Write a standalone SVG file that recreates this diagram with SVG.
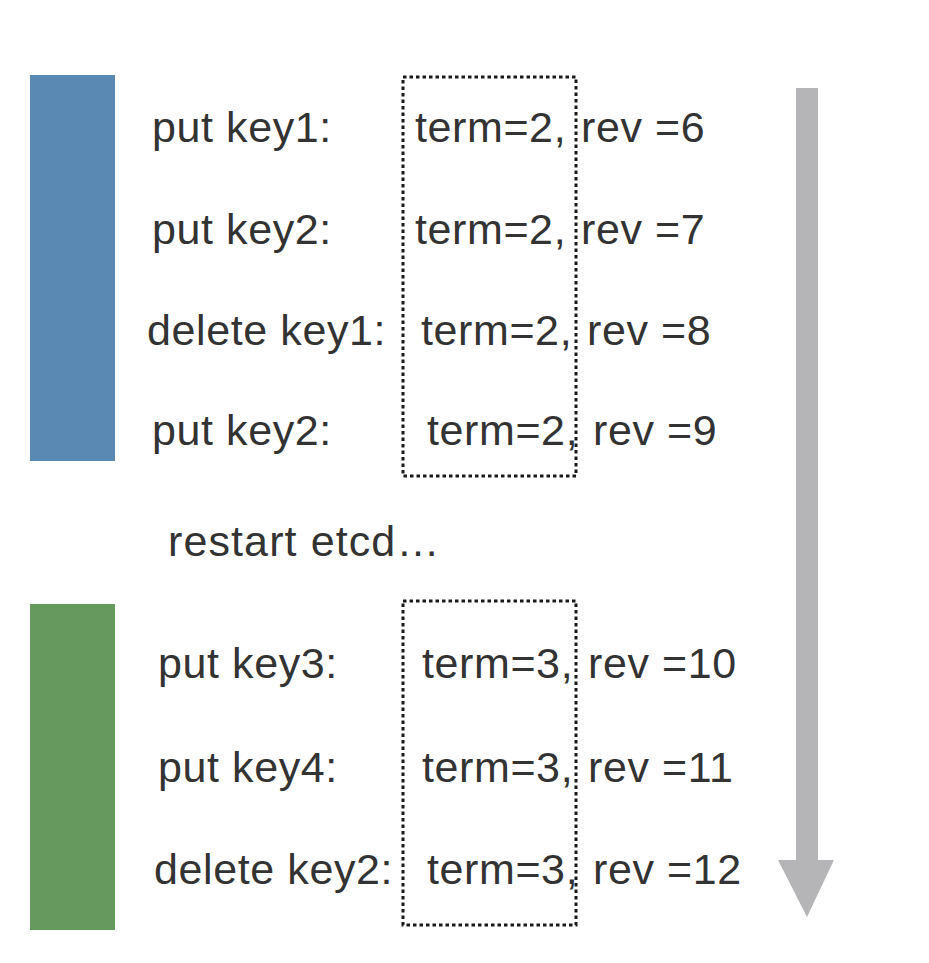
<svg xmlns="http://www.w3.org/2000/svg" width="929" height="963" viewBox="0 0 929 963">
<style>
text{font-family:"Liberation Sans",Arial,sans-serif;font-size:43px;letter-spacing:0.6px;fill:#333}
.box{fill:none;stroke:#1a1a1a;stroke-width:3;stroke-dasharray:3.5 3}
</style>
<rect width="929" height="963" fill="#fff"/>
<g id="bar-blue"><rect x="30" y="75" width="85" height="386" fill="#5a8ab3"/></g>
<g id="bar-green"><rect x="30" y="604" width="85" height="326" fill="#65995e"/></g>
<g id="box1"><rect class="box" x="403" y="77" width="173" height="399"/></g>
<g id="box2"><rect class="box" x="403" y="601" width="173" height="324"/></g>
<g id="timeline"><path d="M796 88 H818 V860 H834 L807 917 L778 860 H796 Z" fill="#b5b5b7"/></g>
<g id="row1"><text x="152" y="142">put key1:</text><text x="415" y="142">term=2,</text><text x="581" y="142">rev =6</text></g>
<g id="row2"><text x="152" y="244">put key2:</text><text x="415" y="244">term=2,</text><text x="581" y="244">rev =7</text></g>
<g id="row3"><text x="147" y="345">delete key1:</text><text x="421" y="345">term=2,</text><text x="587" y="345">rev =8</text></g>
<g id="row4"><text x="152" y="445">put key2:</text><text x="427" y="445">term=2,</text><text x="593" y="445">rev =9</text></g>
<g id="restart"><text x="168" y="556" textLength="272" lengthAdjust="spacing">restart etcd…</text></g>
<g id="row5"><text x="158" y="678">put key3:</text><text x="422" y="678">term=3,</text><text x="588" y="678">rev =10</text></g>
<g id="row6"><text x="158" y="782">put key4:</text><text x="422" y="782">term=3,</text><text x="588" y="782">rev =11</text></g>
<g id="row7"><text x="154" y="884">delete key2:</text><text x="427" y="884">term=3,</text><text x="593" y="884">rev =12</text></g>
<g id="connectors"></g>
</svg>
